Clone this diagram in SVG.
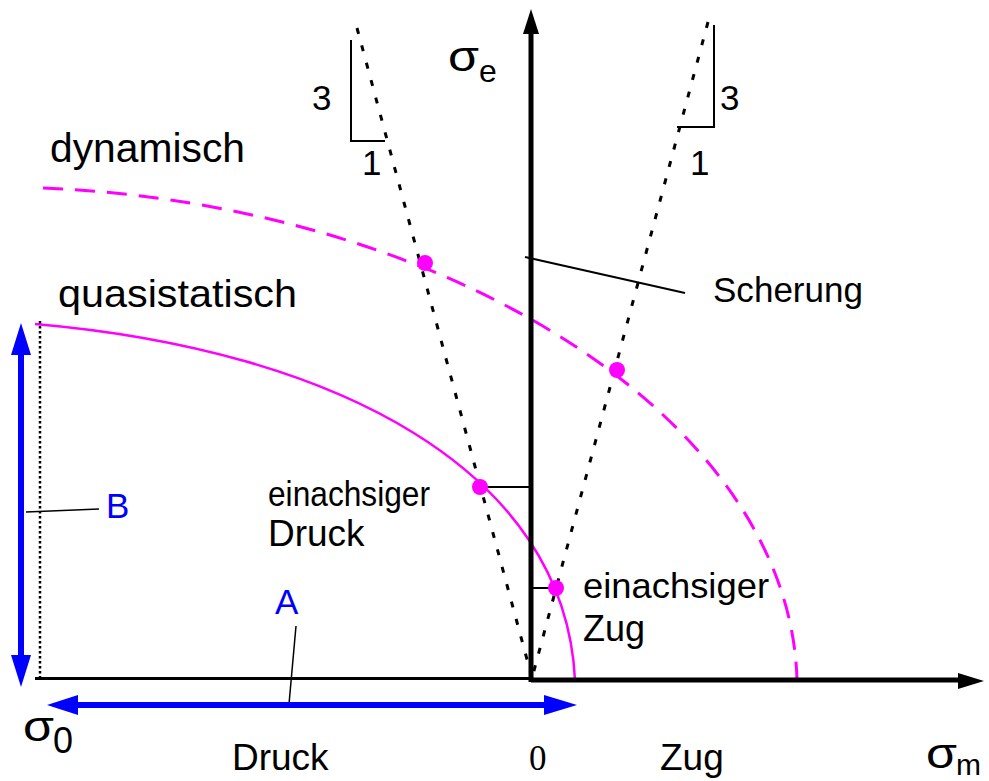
<svg xmlns="http://www.w3.org/2000/svg" width="989" height="781" viewBox="0 0 989 781">
<style>
text{font-family:"Liberation Sans",Arial,sans-serif;fill:#000}
.lbl{font-size:35px}
.blue{fill:#0000ff}
.sig{font-size:42px}
.ax{stroke:#000;fill:none}
.dot{stroke:#000;stroke-width:3;stroke-dasharray:6 12;fill:none}
.lead{stroke:#000;stroke-width:2;fill:none}
.mag{fill:#ff00ff}
.barr{stroke:#0000ff;stroke-width:6;fill:none}
</style>
<rect width="989" height="781" fill="#fff"/>
<g id="curves">
<path d="M35,324 C335,350 565,470 575,680" stroke="#ff00ff" stroke-width="2.5" fill="none"/>
<path d="M43,188 C450,205 790,420 797,680" stroke="#ff00ff" stroke-width="3" stroke-dasharray="20 12" fill="none"/>
</g>
<g id="connectors">
<line class="dot" x1="357" y1="28" x2="532" y2="678"/>
<line class="dot" x1="708" y1="22" x2="532" y2="678"/>
<line x1="40" y1="321" x2="40" y2="680" stroke="#000" stroke-width="2.5" stroke-dasharray="2.5 2.5"/>
<polyline class="lead" points="351,40 351,141 385,141"/>
<polyline class="lead" points="714,25 714,127 677,127"/>
<line class="lead" x1="525" y1="257" x2="685" y2="293"/>
<line class="lead" x1="480" y1="487" x2="531" y2="487"/>
<line class="lead" x1="531" y1="588" x2="556" y2="588"/>
<line x1="26" y1="512" x2="99" y2="509" stroke="#000" stroke-width="1.5"/>
<line x1="296" y1="626" x2="289" y2="704" stroke="#000" stroke-width="1.5"/>
</g>
<g id="axes">
<line class="ax" x1="35" y1="678.5" x2="531" y2="678.5" stroke-width="3"/>
<line class="ax" x1="531" y1="680" x2="962" y2="680" stroke-width="5"/>
<polygon points="984,681 958,673 958,689" fill="#000"/>
<line class="ax" x1="531" y1="682" x2="531" y2="30" stroke-width="5"/>
<polygon points="531,9 523,34 539,34" fill="#000"/>
</g>
<g id="blue-arrows">
<line class="barr" x1="21" y1="352" x2="21" y2="658"/>
<polygon points="21,323 11,355 31,355" fill="#0000ff"/>
<polygon points="21,687 11,655 31,655" fill="#0000ff"/>
<line class="barr" x1="75" y1="705" x2="547" y2="705"/>
<polygon points="47,705 78,695 78,715" fill="#0000ff"/>
<polygon points="577,705 544,695 544,715" fill="#0000ff"/>
</g>
<g id="points">
<circle class="mag" cx="425" cy="263" r="8"/>
<circle class="mag" cx="617" cy="370" r="8"/>
<circle class="mag" cx="480" cy="487" r="8"/>
<circle class="mag" cx="556" cy="588" r="8"/>
</g>
<g id="labels">
<text class="sig" x="448" y="71" textLength="31" lengthAdjust="spacingAndGlyphs">σ</text><text x="479" y="82" font-size="32">e</text>
<text class="sig" x="926" y="768" textLength="31" lengthAdjust="spacingAndGlyphs">σ</text><text x="956" y="775" font-size="30">m</text>
<text class="sig" x="23" y="741" textLength="31" lengthAdjust="spacingAndGlyphs">σ</text><text x="53" y="753" font-size="36">0</text>
<text x="50" y="162" font-size="40" textLength="195" lengthAdjust="spacingAndGlyphs">dynamisch</text>
<text x="58" y="307" font-size="39" textLength="239" lengthAdjust="spacingAndGlyphs">quasistatisch</text>
<text x="713" y="302" font-size="35" textLength="150" lengthAdjust="spacingAndGlyphs">Scherung</text>
<text x="268" y="506" font-size="35" textLength="162" lengthAdjust="spacingAndGlyphs">einachsiger</text>
<text x="268" y="546" font-size="37">Druck</text>
<text x="583" y="598" font-size="35" textLength="186" lengthAdjust="spacingAndGlyphs">einachsiger</text>
<text x="583" y="641" font-size="36">Zug</text>
<text class="lbl" x="312" y="110">3</text>
<text class="lbl" x="362" y="175">1</text>
<text class="lbl" x="720" y="110">3</text>
<text class="lbl" x="690" y="175">1</text>
<text class="lbl blue" x="106" y="518">B</text>
<text class="lbl blue" x="275" y="614">A</text>
<text x="232" y="770" font-size="37">Druck</text>
<text x="529" y="770" font-size="35" style="font-family:'Liberation Serif','Times New Roman',serif">0</text>
<text x="660" y="770" font-size="37">Zug</text>
</g>
</svg>
